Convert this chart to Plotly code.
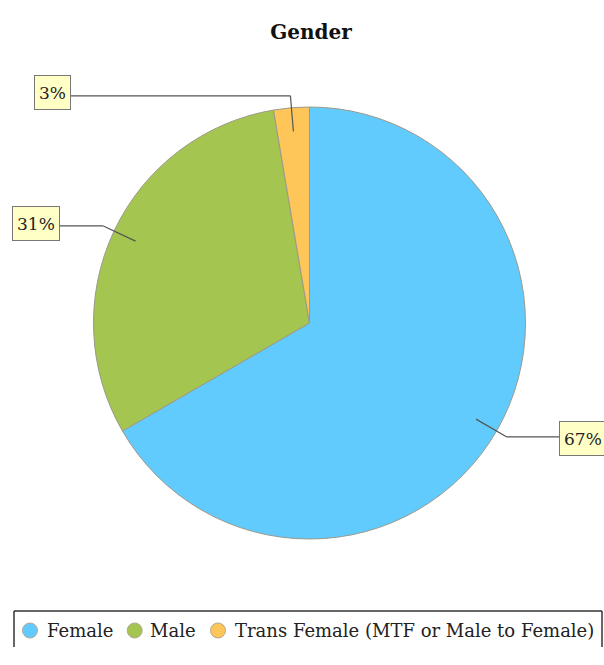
import math
import plotly.graph_objects as go

# Data
categories = ["Female", "Male", "Trans Female (MTF or Male to Female)"]
values = [50, 23, 2]
colors = ["#62cbfe", "#a5c551", "#fec658"]
title_text = "Gender"

# Layout constants (pixels)
W, H = 604, 665
CX, CY, R = 309.5, 323.0, 216.0
FONT = "DejaVu Serif"
label_centers = [(583, 438), (35.5, 224), (52, 92.7)]
legend_circle_x = [30, 134.7, 218]
legend_text_x = [44.5, 147.5, 232.5]
LEG_Y = 630.5
LEG_BOX = (14, 611, 602, 647)


def P(x, y):
    return x / W, 1 - y / H


fig = go.Figure()
fig.add_trace(go.Pie(
    labels=categories, values=values, sort=False, direction="clockwise",
    rotation=0, textinfo="none", hoverinfo="label+percent",
    marker=dict(colors=colors, line=dict(color="#9a9a8a", width=1)),
    domain=dict(x=[(CX - R) / W, (CX + R) / W],
                y=[(H - CY - R) / H, (H - CY + R) / H]),
    showlegend=False,
))

shapes = []
annotations = []


def line(a, b, color="#555555", width=1.2):
    x0, y0 = P(*a)
    x1, y1 = P(*b)
    shapes.append(dict(type="line", xref="paper", yref="paper",
                       x0=x0, y0=y0, x1=x1, y1=y1,
                       line=dict(color=color, width=width)))


# Leader lines and label boxes
total = sum(values)
cum = 0.0
for i, v in enumerate(values):
    mid = (cum + v / 2) / total * 2 * math.pi
    cum += v
    sx, sy = math.sin(mid), -math.cos(mid)
    p1 = (CX + 0.89 * R * sx, CY + 0.89 * R * sy)
    p2 = (CX + 1.055 * R * sx, CY + 1.055 * R * sy)
    lx, ly = label_centers[i]
    end = (lx - 22 if lx > CX else lx + 18, p2[1])
    line(p1, p2)
    line(p2, end)
    ax, ay = P(lx, ly)
    pct = round(v / total * 100)
    annotations.append(dict(xref="paper", yref="paper", x=ax, y=ay,
                            xanchor="center", yanchor="middle",
                            text=f"{pct}%", showarrow=False, height=25,
                            font=dict(family=FONT, size=17, color="#222222"),
                            bgcolor="#ffffc6", bordercolor="#777777",
                            borderwidth=1, borderpad=4))

# Legend (drawn manually to get circle symbols)
bx0, by0, bx1, by1 = LEG_BOX
line((bx0, by0), (bx1, by0), color="#333333", width=1.5)
line((bx0, by0), (bx0, by1), color="#333333", width=1.5)
line((bx1, by0), (bx1, by1), color="#333333", width=1.5)
for c, col, cxl, tx in zip(categories, colors, legend_circle_x, legend_text_x):
    r = 7.5
    x0, y0 = P(cxl - r, LEG_Y + r)
    x1, y1 = P(cxl + r, LEG_Y - r)
    shapes.append(dict(type="circle", xref="paper", yref="paper",
                       x0=x0, y0=y0, x1=x1, y1=y1, fillcolor=col,
                       line=dict(color="#b0a890", width=1)))
    ax, ay = P(tx, LEG_Y)
    annotations.append(dict(xref="paper", yref="paper", x=ax, y=ay,
                            xanchor="left", yanchor="middle", text=c,
                            showarrow=False,
                            font=dict(family=FONT, size=18, color="#222222")))

fig.update_layout(
    width=W, height=H,
    margin=dict(l=0, r=0, t=0, b=0),
    paper_bgcolor="white", plot_bgcolor="white",
    title=dict(text=f"<b>{title_text}</b>", x=311 / W, xanchor="center",
               y=1 - 32 / H, yanchor="middle", yref="container",
               font=dict(family=FONT, size=20, color="#111111")),
    showlegend=False,
    shapes=shapes, annotations=annotations,
)

fig.write_html("out.html")
